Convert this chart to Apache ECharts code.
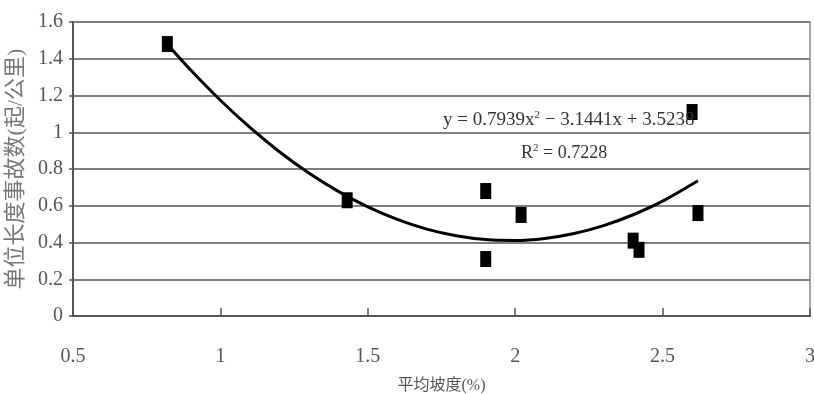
<!DOCTYPE html>
<html><head><meta charset="utf-8">
<script src="https://cdn.jsdelivr.net/npm/echarts@6/dist/echarts.min.js"></script>
<style>html,body{margin:0;padding:0;background:#fff}#c{width:814px;height:394px}</style>
</head><body><div id="c"></div>
<script>
// Observed data points (slope %, accidents per km)
const slopeX = [0.82, 1.43, 1.90, 1.90, 2.02, 2.40, 2.42, 2.60, 2.62];
const accidentY = [1.48, 0.63, 0.68, 0.31, 0.55, 0.41, 0.36, 1.11, 0.56];
// Trend curve points
const trendX = [0.82, 0.9, 1.0, 1.1, 1.2, 1.3, 1.4, 1.5, 1.6, 1.7, 1.8, 1.9, 2.0, 2.1, 2.2, 2.3, 2.4, 2.5, 2.62];
const trendY = [1.479, 1.337, 1.174, 1.026, 0.894, 0.778, 0.678, 0.594, 0.526, 0.473, 0.437, 0.416, 0.411, 0.422, 0.449, 0.492, 0.551, 0.625, 0.736];
const xTicks = ['0.5', '1', '1.5', '2', '2.5', '3'];
const yTicks = ['0', '0.2', '0.4', '0.6', '0.8', '1', '1.2', '1.4', '1.6'];
const xName = '平均坡度(%)';
const yName = '单位长度事故数(起/公里)';
const eqText = 'y = 0.7939x{s|2} − 3.1441x + 3.5238';
const r2Text = 'R{s|2} = 0.7228';

const FONT = '"Liberation Serif", "Noto Sans CJK SC", serif';
const chart = echarts.init(document.getElementById('c'));
chart.setOption({
  animation: false,
  grid: { left: 73, right: 4, top: 22, bottom: 78, outerBoundsMode: 'none', containLabel: false,
    show: true, borderColor: '#8a8a8a', borderWidth: 1.5 },
  xAxis: {
    type: 'value', min: 0.5, max: 3, interval: 0.5,
    name: xName, nameLocation: 'middle', nameGap: 62,
    nameTextStyle: { fontFamily: FONT, fontSize: 16, color: '#555' },
    axisLine: { show: true, lineStyle: { color: '#555', width: 2 } },
    axisTick: { show: true, inside: true, length: 8, lineStyle: { color: '#555', width: 1.5 } },
    axisLabel: { margin: 31, fontFamily: FONT, fontSize: 20, color: '#555',
      formatter: (v) => { const i = Math.round((v - 0.5) / 0.5); return xTicks[i] ?? ''; } },
    splitLine: { show: false }
  },
  yAxis: {
    type: 'value', min: 0, max: 1.6, interval: 0.2,
    name: yName, nameLocation: 'middle', nameGap: 36, nameRotate: 90,
    nameTextStyle: { fontFamily: FONT, fontSize: 22, color: '#777' },
    axisLine: { show: true, lineStyle: { color: '#555', width: 2 } },
    axisTick: { show: true, length: 4, lineStyle: { color: '#555', width: 1.5 } },
    axisLabel: { margin: 10, fontFamily: FONT, fontSize: 20, color: '#555',
      formatter: (v) => { const i = Math.round(v / 0.2); return yTicks[i] ?? ''; } },
    splitLine: { show: true, lineStyle: { color: '#808080', width: 2 } }
  },
  series: [
    {
      type: 'line', smooth: 0.3, showSymbol: false, z: 3,
      data: trendX.map((x, i) => [x, trendY[i]]),
      lineStyle: { color: '#000', width: 3 }
    },
    {
      type: 'scatter', symbol: 'rect', symbolSize: [11, 16], z: 4,
      data: slopeX.map((x, i) => [x, accidentY[i]]),
      itemStyle: { color: '#000', opacity: 1 }
    }
  ],
  graphic: [
    { type: 'text', left: 443, top: 110, z: 5, style: { text: eqText, fontFamily: FONT, fontSize: 19, fill: '#333',
      rich: { s: { fontSize: 11, verticalAlign: 'top', padding: [0, 0, 9, 0], fontFamily: FONT, fill: '#333' } } } },
    { type: 'text', left: 521, top: 143, z: 5, style: { text: r2Text, fontFamily: FONT, fontSize: 18, fill: '#333',
      rich: { s: { fontSize: 11, verticalAlign: 'top', padding: [0, 0, 9, 0], fontFamily: FONT, fill: '#333' } } } }
  ]
});
</script></body></html>
